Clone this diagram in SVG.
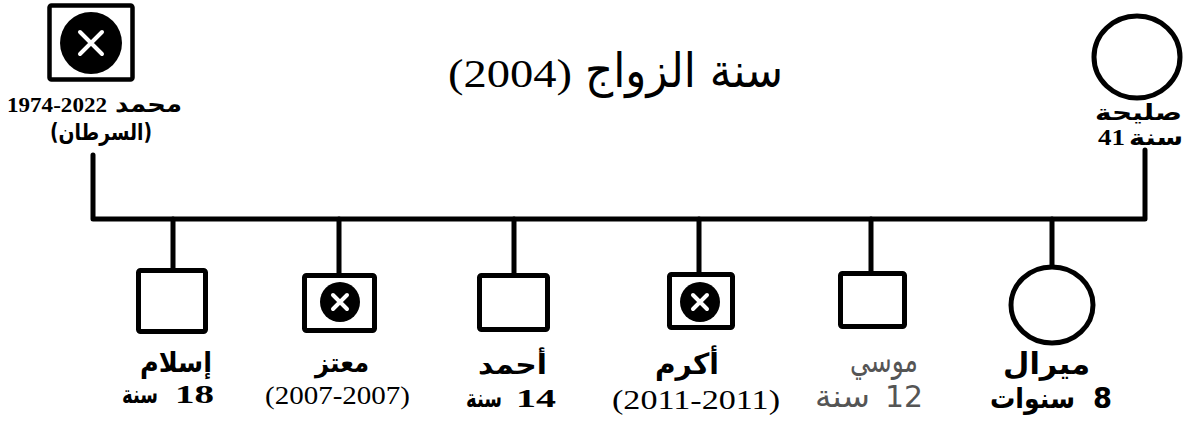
<svg xmlns="http://www.w3.org/2000/svg" width="1194" height="423" viewBox="0 0 1194 423">
<style>
.shape{fill:#fff;stroke:#000;stroke-width:5}
.dead{fill:#000}
.x{stroke:#fff;stroke-width:4;stroke-linecap:round}
.ln{fill:none;stroke:#000;stroke-width:5;stroke-linejoin:round;stroke-linecap:round}
text{fill:#000}
.ar{font-family:"DejaVu Sans","Noto Sans",sans-serif;font-weight:bold;font-size:25px}
.num{font-family:"Liberation Serif","DejaVu Serif",serif;font-weight:bold;font-size:26px}
.yr{font-family:"Liberation Serif","DejaVu Serif",serif;font-size:27px}
.sans{font-family:"DejaVu Sans","Noto Sans",sans-serif;font-size:30px}
</style>
<rect width="1194" height="423" fill="#fff"/>
<g id="connectors">
<path class="ln" d="M93,155 V219 H1145 V150"/>
<path class="ln" d="M173,219 V270 M339,219 V275 M514,219 V275 M699,219 V274 M871,219 V273 M1052,219 V267"/>
</g>
<g id="title">
<text class="yr" x="448" y="87" style="font-size:40px" textLength="124" lengthAdjust="spacingAndGlyphs">(2004)</text>
<text x="585" y="87" style="font-family:'DejaVu Sans',sans-serif;font-size:47px" textLength="198" lengthAdjust="spacingAndGlyphs">سنة الزواج</text>
</g>
<g id="father">
<rect class="shape" x="49.5" y="5.5" width="83" height="74" rx="2" style="stroke-width:4.5"/>
<circle class="dead" cx="91" cy="43" r="31"/>
<path class="x" d="M80,32 L102,54 M102,32 L80,54"/>
<text class="num" x="7" y="112" style="font-size:22px" textLength="100" lengthAdjust="spacingAndGlyphs">1974-2022</text>
<text class="ar" x="115" y="112" style="font-size:23px" textLength="67" lengthAdjust="spacingAndGlyphs">محمد</text>
<text class="ar" x="50" y="140" style="font-size:23px" textLength="102" lengthAdjust="spacingAndGlyphs">(السرطان)</text>
</g>
<g id="mother">
<ellipse class="shape" cx="1137" cy="57" rx="43" ry="41"/>
<text class="ar" x="1095" y="120" style="font-size:22px" textLength="87" lengthAdjust="spacingAndGlyphs">صليحة</text>
<text class="num" x="1098" y="145" style="font-size:23px" textLength="27" lengthAdjust="spacingAndGlyphs">41</text>
<text class="ar" x="1129" y="145" style="font-size:22px" textLength="54" lengthAdjust="spacingAndGlyphs">سنة</text>
</g>
<g id="islam">
<rect class="shape" x="138.5" y="270.5" width="67" height="61" rx="2"/>
<text class="ar" x="140" y="372" style="font-size:28px" textLength="72" lengthAdjust="spacingAndGlyphs">إسلام</text>
<text class="ar" x="122" y="403" textLength="36" lengthAdjust="spacingAndGlyphs">سنة</text>
<text class="num" x="175" y="403" textLength="39" lengthAdjust="spacingAndGlyphs">18</text>
</g>
<g id="mutaz">
<rect class="shape" x="304.5" y="275.5" width="70" height="55" rx="2"/>
<circle class="dead" cx="340" cy="302" r="20"/>
<path class="x" d="M333,295 L347,309 M347,295 L333,309"/>
<text class="ar" x="315" y="372" style="font-size:27px" textLength="54" lengthAdjust="spacingAndGlyphs">معتز</text>
<text class="yr" x="265" y="404" style="font-size:26px" textLength="145" lengthAdjust="spacingAndGlyphs">(2007-2007)</text>
</g>
<g id="ahmad">
<rect class="shape" x="479.5" y="275.5" width="68" height="54" rx="2"/>
<text class="ar" x="478" y="374" style="font-size:27px" textLength="69" lengthAdjust="spacingAndGlyphs">أحمد</text>
<text class="ar" x="466" y="407" textLength="36" lengthAdjust="spacingAndGlyphs">سنة</text>
<text class="num" x="516" y="407" textLength="40" lengthAdjust="spacingAndGlyphs">14</text>
</g>
<g id="akram">
<rect class="shape" x="669.5" y="274.5" width="63" height="53" rx="2"/>
<circle class="dead" cx="700" cy="302" r="20"/>
<path class="x" d="M693,295 L707,309 M707,295 L693,309"/>
<text class="ar" x="655" y="374" style="font-size:29px" textLength="64" lengthAdjust="spacingAndGlyphs">أكرم</text>
<text class="yr" x="612" y="409" style="font-size:28px" textLength="168" lengthAdjust="spacingAndGlyphs">(2011-2011)</text>
</g>
<g id="mousa">
<rect class="shape" x="840.5" y="273.5" width="64" height="53" rx="2"/>
<text class="sans" x="850" y="372" style="fill:#555;font-size:33px" textLength="68" lengthAdjust="spacingAndGlyphs">موسي</text>
<text class="sans" x="815" y="407" style="fill:#555;font-size:31px" textLength="55" lengthAdjust="spacingAndGlyphs">سنة</text>
<text class="sans" x="885" y="407" style="fill:#555" textLength="38" lengthAdjust="spacingAndGlyphs">12</text>
</g>
<g id="miral">
<ellipse class="shape" cx="1052" cy="305" rx="41" ry="38"/>
<text class="sans" x="1003" y="374" style="font-weight:bold;font-size:30px" textLength="87" lengthAdjust="spacingAndGlyphs">ميرال</text>
<text class="sans" x="990" y="408" style="font-weight:bold;font-size:28px" textLength="85" lengthAdjust="spacingAndGlyphs">سنوات</text>
<text class="sans" x="1093" y="408" style="font-weight:bold;font-size:29px" textLength="19" lengthAdjust="spacingAndGlyphs">8</text>
</g>
</svg>
